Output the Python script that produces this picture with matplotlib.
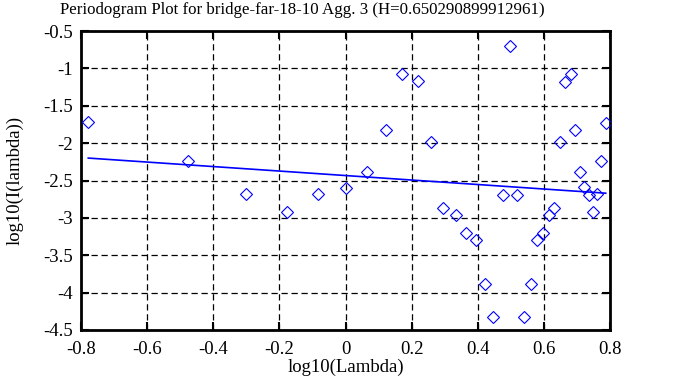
import matplotlib
matplotlib.use('Agg')
import matplotlib.pyplot as plt

# log10 of frequency and log10 of periodogram value
log_lambda = [-0.778, -0.477, -0.302, -0.178, -0.082, 0.000, 0.064, 0.122,
              0.172, 0.219, 0.260, 0.296, 0.333, 0.365, 0.394, 0.421,
              0.447, 0.476, 0.498, 0.520, 0.540, 0.560, 0.578, 0.597,
              0.614, 0.632, 0.649, 0.664, 0.681, 0.694, 0.709, 0.721,
              0.735, 0.748, 0.762, 0.774, 0.787]
log_periodogram = [-1.72, -2.24, -2.68, -2.915, -2.68, -2.60, -2.38, -1.82,
                   -1.08, -1.17, -1.99, -2.87, -2.96, -3.196, -3.29, -3.88,
                   -4.33, -2.70, -0.70, -2.70, -4.33, -3.88, -3.29, -3.196,
                   -2.96, -2.87, -1.99, -1.18, -1.075, -1.82, -2.38, -2.59,
                   -2.69, -2.915, -2.68, -2.24, -1.73]

# end points of the fitted line
fit_x = [-0.778, 0.787]
fit_y = [-2.200, -2.670]

x_ticks = [-0.8, -0.6, -0.4, -0.2, 0, 0.2, 0.4, 0.6, 0.8]
x_tick_labels = ['-0.8', '-0.6', '-0.4', '-0.2', '0', '0.2', '0.4', '0.6', '0.8']
y_ticks = [-4.5, -4, -3.5, -3, -2.5, -2, -1.5, -1, -0.5]
y_tick_labels = ['-4.5', '-4', '-3.5', '-3', '-2.5', '-2', '-1.5', '-1', '-0.5']

plt.rcParams['font.family'] = ['Liberation Serif', 'DejaVu Serif']
plt.rcParams['font.size'] = 13

fig = plt.figure(figsize=(6.83, 3.87), dpi=100)
ax = fig.add_axes([81 / 683, 1 - 330 / 387, 529 / 683, 299 / 387])

ax.plot(log_lambda, log_periodogram, linestyle='none', marker='D', markersize=6.5,
        markerfacecolor='none', markeredgecolor='#0000ff', markeredgewidth=0.8, zorder=3)
ax.plot(fit_x, fit_y, color='#0000ff', linewidth=1.2, zorder=3)

ax.set_xlim(-0.8, 0.8)
ax.set_ylim(-4.5, -0.5)
ax.set_xticks(x_ticks)
ax.set_xticklabels(x_tick_labels)
ax.set_yticks(y_ticks)
ax.set_yticklabels(y_tick_labels)
ax.tick_params(direction='in', length=6, width=1.5, top=True, right=True, labelsize=13.5)
ax.tick_params(axis='x', pad=8)
ax.tick_params(axis='y', pad=6)
for spine in ax.spines.values():
    spine.set_linewidth(2)
ax.grid(True, color='black', linestyle=(0, (5, 3)), linewidth=0.9)

ax.set_xlabel('log10(Lambda)', fontsize=13.5)
ax.xaxis.set_label_coords(0.5, -0.097)
ax.set_ylabel('log10(I(lambda))', fontsize=13.5)
ax.yaxis.set_label_coords(-0.108, 0.5)
fig.text(302 / 683, 1 - 10 / 387, 'Periodogram Plot for bridge-far-18-10 Agg. 3 (H=0.650290899912961)',
         ha='center', va='center', fontsize=12.2)

fig.savefig('out.png', dpi=100)
